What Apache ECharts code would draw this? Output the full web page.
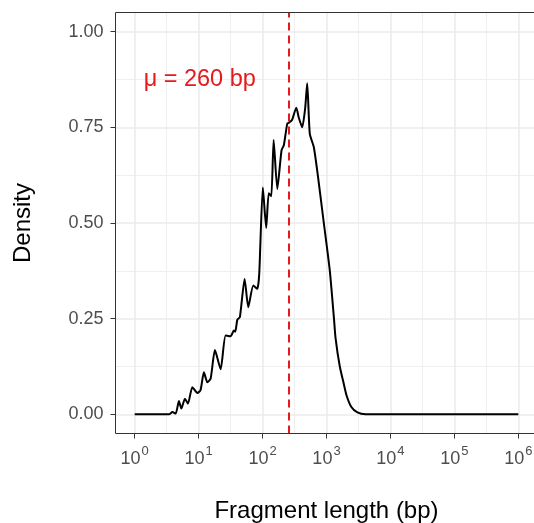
<!DOCTYPE html>
<html><head><meta charset="utf-8">
<script src="https://cdn.jsdelivr.net/npm/echarts@6/dist/echarts.min.js"></script>
<style>html,body{margin:0;padding:0;background:#fff}#c{width:534px;height:523px}</style>
</head><body><div id="c"></div>
<script>
// Fragment length (bp) and density
const fragmentLengthBp = [1, 3.44, 3.88, 4.38, 4.92, 5.37, 6.11, 6.81, 7.98, 9.55, 10.7, 12.1, 13.7, 15.4, 18.0, 22.1, 26.4, 31.6, 35.6, 37.4, 40.3, 44.2, 52.4, 59.8, 71.6, 82.6, 88.7, 101, 114, 125, 137, 149, 170, 198, 215, 243, 258, 274, 291, 337, 369, 417, 464, 499, 548, 634, 731, 908, 1127, 1309, 1384, 1614, 1862, 2054, 2432, 3048, 4064, 1000000];
const density = [0, 0, 0.006, 0.002, 0.035, 0.015, 0.041, 0.028, 0.071, 0.056, 0.063, 0.110, 0.084, 0.093, 0.168, 0.118, 0.206, 0.204, 0.219, 0.216, 0.247, 0.254, 0.354, 0.280, 0.337, 0.328, 0.367, 0.593, 0.487, 0.578, 0.570, 0.717, 0.589, 0.690, 0.703, 0.759, 0.762, 0.765, 0.770, 0.801, 0.775, 0.750, 0.800, 0.865, 0.733, 0.698, 0.625, 0.500, 0.375, 0.250, 0.200, 0.125, 0.080, 0.050, 0.020, 0.005, 0, 0];
const xTickExponents = [0, 1, 2, 3, 4, 5, 6];
const yTicks = [0, 0.25, 0.5, 0.75, 1];
const meanFragmentBp = 260;
const annotationText = 'μ = 260 bp';
const annotationPoint = [1.38, 0.875]; // [bp, density], left edge of label

const FONT = 'Liberation Sans, Arial, Helvetica, sans-serif';
const RED = '#E41A1C';
const seriesData = fragmentLengthBp.map((b, i) => [Math.log10(b), density[i]]);

const chart = echarts.init(document.getElementById('c'), null, {renderer: 'canvas'});
chart.setOption({
  animation: false,
  backgroundColor: '#fff',
  grid: {left: 115.5, top: 12.5, width: 422, height: 421, show: true, z: 10, borderColor: '#333333', borderWidth: 1, backgroundColor: 'transparent', containLabel: false, outerBoundsMode: 'none'},
  xAxis: {
    type: 'value', min: -0.3, max: 6.3, minInterval: 1, maxInterval: 1,
    name: 'Fragment length (bp)', nameLocation: 'middle', nameGap: 66,
    nameTextStyle: {fontFamily: FONT, fontSize: 24, color: '#000'},
    axisLine: {show: false, onZero: false},
    axisTick: {show: true, length: 5, lineStyle: {color: '#333333', width: 1}, customValues: xTickExponents},
    axisLabel: {
      show: true, margin: 11, customValues: xTickExponents,
      formatter: v => (Math.abs(v - Math.round(v)) < 1e-6 && v >= 0 && v <= 6) ? '{b|10}{s|' + Math.round(v) + '}' : '',
      rich: {
        b: {fontFamily: FONT, fontSize: 18, color: '#4D4D4D', verticalAlign: 'bottom', padding: [6, 0, 0, 0]},
        s: {fontFamily: FONT, fontSize: 13, color: '#4D4D4D', verticalAlign: 'top', padding: [0, 0, 0, 1]}
      }
    },
    splitLine: {show: true, lineStyle: {color: '#EBEBEB', width: 1.6}},
    minorTick: {show: false, splitNumber: 2},
    minorSplitLine: {show: true, lineStyle: {color: '#EBEBEB', width: 0.8}}
  },
  yAxis: {
    type: 'value', min: -0.05, max: 1.05, minInterval: 0.25, maxInterval: 0.25,
    name: 'Density', nameLocation: 'middle', nameGap: 80, nameRotate: 90,
    nameTextStyle: {fontFamily: FONT, fontSize: 24, color: '#000'},
    axisLine: {show: false, onZero: false},
    axisTick: {show: true, length: 5, lineStyle: {color: '#333333', width: 1}, customValues: yTicks},
    axisLabel: {
      show: true, margin: 12, customValues: yTicks,
      fontFamily: FONT, fontSize: 18, color: '#4D4D4D',
      formatter: v => { const k = v / 0.25; return (Math.abs(k - Math.round(k)) < 1e-6 && v >= 0 && v <= 1) ? v.toFixed(2) : ''; }
    },
    splitLine: {show: true, lineStyle: {color: '#EBEBEB', width: 1.6}},
    minorTick: {show: false, splitNumber: 2},
    minorSplitLine: {show: true, lineStyle: {color: '#EBEBEB', width: 0.8}}
  },
  series: [
    {
      type: 'line', data: seriesData, showSymbol: false, symbol: 'none', smooth: 0.2,
      lineStyle: {color: '#000', width: 2}, z: 3,
      markLine: {
        silent: true, symbol: 'none', label: {show: false},
        lineStyle: {color: RED, type: [8, 5], width: 2, opacity: 1},
        data: [{xAxis: Math.log10(meanFragmentBp)}]
      }
    },
    {
      type: 'scatter', data: [[Math.log10(annotationPoint[0]), annotationPoint[1]]],
      symbolSize: 0, itemStyle: {color: 'transparent', opacity: 1}, silent: true,
      label: {show: true, position: 'right', distance: 0, formatter: annotationText,
        fontFamily: FONT, fontSize: 23.5, color: RED, opacity: 1}
    }
  ]
});
</script>
</body></html>
